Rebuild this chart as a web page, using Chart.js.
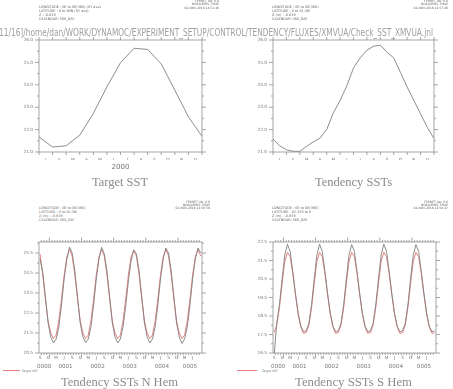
<!DOCTYPE html>
<html><head><meta charset="utf-8">
<script src="https://cdn.jsdelivr.net/npm/chart.js@4/dist/chart.umd.min.js"></script>
<style>
html,body{margin:0;padding:0;background:#fff;}
#page{position:relative;width:453px;height:389px;overflow:hidden;background:#fff;font-family:"DejaVu Sans",sans-serif;color:#777;}
canvas{position:absolute;}
.info{position:absolute;font-size:3.4px;line-height:4.1px;white-space:pre;color:#666;}
.stamp{position:absolute;font-size:3px;line-height:3.3px;white-space:pre;color:#666;text-align:right;}
.fit{position:absolute;white-space:nowrap;transform-origin:0 0;}
.path{font-family:"DejaVu Sans",sans-serif;font-size:10.5px;color:#a0a0a0;}
.title{font-family:"Liberation Serif",serif;font-size:12px;color:#8c8c8c;}
.leg{position:absolute;height:0;border-top:1px solid #e68080;}
.legt{position:absolute;font-size:3px;color:#777;white-space:nowrap;}
</style></head>
<body><div id="page">
<canvas id="cTL" width="230" height="150" style="left:0;top:30px"></canvas>
<canvas id="cTR" width="223" height="150" style="left:230px;top:30px"></canvas>
<canvas id="cBL" width="230" height="150" style="left:0;top:232px"></canvas>
<canvas id="cBR" width="223" height="150" style="left:230px;top:232px"></canvas>

<div class="fit path" data-l="-1" data-t="25.5" data-w="434">11/16]/home/dan/WORK/DYNAMOC/EXPERIMENT_SETUP/CONTROL/TENDENCY/FLUXES/XMVUA/Check_SST_XMVUA.jnl</div>

<div class="info" style="left:39px;top:4.5px">LONGITUDE : 0E to 0E(360) (XY ave)
LATITUDE : 0 to 90N (XY ave)
Z : -0.639
CALENDAR: 360_DAY</div>
<div class="stamp" style="right:234px;top:0px">FERRET Ver. 6.6
NOAA/PMEL TMAP
02-NOV-2016 14:51:46</div>

<div class="info" style="left:272px;top:4.5px">LONGITUDE : 0E to 0E(360)
LATITUDE : 0 to 81.3N
Z (m) : -0.639
CALENDAR: 360_DAY</div>
<div class="stamp" style="right:5px;top:0px">FERRET Ver. 6.6
NOAA/PMEL TMAP
02-NOV-2016 14:57:46</div>

<div class="fit title" data-l="92" data-t="175" data-w="56">Target SST</div>
<div class="fit title" data-l="315" data-t="175" data-w="77">Tendency SSTs</div>

<div class="info" style="left:39px;top:206px">LONGITUDE : 0E to 0E(360)
LATITUDE : 0 to 81.3N
Z (m) : -0.639
CALENDAR: 360_DAY</div>
<div class="stamp" style="right:243px;top:200.5px">FERRET Ver. 6.6
NOAA/PMEL TMAP
02-NOV-2016 14:56:59</div>

<div class="info" style="left:272px;top:206px">LONGITUDE : 0E to 0E(360)
LATITUDE : 82.33S to 0
Z (m) : -0.639
CALENDAR: 360_DAY</div>
<div class="stamp" style="right:5px;top:200.5px">FERRET Ver. 6.6
NOAA/PMEL TMAP
02-NOV-2016 14:58:47</div>

<div class="leg" style="left:3px;top:370px;width:17px"></div>
<div class="legt" style="left:22px;top:368.5px">Target SST</div>
<div class="leg" style="left:237px;top:370px;width:20px"></div>
<div class="legt" style="left:262px;top:368.5px">Target SST</div>

<div class="fit title" data-l="61" data-t="375" data-w="117">Tendency SSTs N Hem</div>
<div class="fit title" data-l="295" data-t="375" data-w="117">Tendency SSTs S Hem</div>
</div>
<script>
// ---------- data ----------
const climMonthLabels = ['J','F','M','A','M','J','J','A','S','O','N','D'];
const climYearLabel = ['2000'];
const climYTicks = [21, 22, 23, 24, 25, 26];
// Target SST, at month boundaries Jan 1 .. Dec 31
const targetSST = [21.67, 21.22, 21.28, 21.75, 22.72, 23.91, 24.99, 25.63, 25.58, 24.93, 23.76, 22.57, 21.70];
// Tendency SSTs, twice a month
const tendencySST = [21.57, 21.28, 21.10, 21.03, 21.03, 21.25, 21.45, 21.62, 22.00, 22.75, 23.30, 23.95,
                     24.75, 25.20, 25.55, 25.72, 25.77, 25.45, 25.20, 24.55, 23.90, 23.30, 22.70, 22.10, 21.60];

// time series, monthly from Sep 0000 to Sep 0005
const seriesQuarterLabels = ['S','D','M','J'];
const seriesYears = ['0000','0001','0002','0003','0004','0005'];
const nhYTicks = [20.5, 21.5, 22.5, 23.5, 24.5, 25.5];
const shYTicks = [16.5, 17.5, 18.5, 19.5, 20.5, 21.5, 22.5];

const tendNH = [25.20, 24.55, 23.30, 22.00, 21.30, 21.00, 21.20, 21.80, 22.90, 24.20, 25.20, 25.80,
                25.50, 24.60, 23.30, 22.00, 21.30, 21.02, 21.20, 21.80, 22.90, 24.20, 25.20, 25.78,
                25.45, 24.60, 23.30, 22.00, 21.30, 21.00, 21.20, 21.80, 22.85, 24.10, 25.10, 25.66,
                25.45, 24.60, 23.30, 22.00, 21.30, 21.00, 21.20, 21.80, 22.90, 24.20, 25.20, 25.75,
                25.50, 24.60, 23.30, 22.00, 21.30, 20.98, 21.20, 21.80, 22.90, 24.20, 25.20, 25.75, 25.50];
const targetNH = [25.45, 24.40, 23.20, 22.10, 21.50, 21.22, 21.40, 22.10, 23.20, 24.40, 25.30, 25.68,
                  25.35, 24.40, 23.20, 22.10, 21.50, 21.22, 21.40, 22.10, 23.20, 24.40, 25.30, 25.68,
                  25.35, 24.40, 23.20, 22.10, 21.50, 21.22, 21.40, 22.10, 23.20, 24.40, 25.30, 25.62,
                  25.35, 24.40, 23.20, 22.10, 21.50, 21.22, 21.40, 22.10, 23.20, 24.40, 25.30, 25.68,
                  25.35, 24.40, 23.20, 22.10, 21.50, 21.22, 21.40, 22.10, 23.20, 24.40, 25.30, 25.68, 25.35];
const tendSH = [16.30, 18.10, 19.10, 20.50, 21.80, 22.38, 22.00, 20.90, 19.70, 18.65, 17.95, 17.65,
                17.70, 18.10, 19.10, 20.50, 21.80, 22.38, 22.00, 20.90, 19.70, 18.65, 17.95, 17.65,
                17.70, 18.10, 19.10, 20.50, 21.80, 22.36, 22.00, 20.90, 19.70, 18.65, 17.95, 17.65,
                17.70, 18.10, 19.10, 20.50, 21.80, 22.38, 22.00, 20.90, 19.70, 18.65, 17.95, 17.65,
                17.70, 18.10, 19.10, 20.50, 21.80, 22.36, 22.00, 20.90, 19.70, 18.65, 17.95, 17.65, 17.70];
const targetSH = [17.60, 18.00, 18.95, 20.25, 21.45, 21.94, 21.70, 20.80, 19.65, 18.60, 17.90, 17.56,
                  17.60, 18.00, 18.95, 20.25, 21.45, 21.94, 21.70, 20.80, 19.65, 18.60, 17.90, 17.56,
                  17.60, 18.00, 18.95, 20.25, 21.45, 21.94, 21.70, 20.80, 19.65, 18.60, 17.90, 17.56,
                  17.60, 18.00, 18.95, 20.25, 21.45, 21.94, 21.70, 20.80, 19.65, 18.60, 17.90, 17.56,
                  17.60, 18.00, 18.95, 20.25, 21.45, 21.94, 21.70, 20.80, 19.65, 18.60, 17.90, 17.56, 17.60];

// ---------- styling ----------
const GRAY = '#808080', RED = '#e57575', AXIS = '#8f8f8f', TXT = '#777';
const FONT = 'DejaVu Sans';

const ferretFrame = {
  id: 'ferretFrame',
  afterDraw(chart, args, o) {
    const {ctx, chartArea: a, scales} = chart;
    ctx.save();
    ctx.strokeStyle = AXIS; ctx.lineWidth = 0.8;
    ctx.strokeRect(a.left, a.top, a.right - a.left, a.bottom - a.top);
    ctx.beginPath();
    for (const t of o.xTicks) {
      const p = scales.x.getPixelForValue(t.v);
      ctx.moveTo(p, a.bottom); ctx.lineTo(p, a.bottom + t.len);
      ctx.moveTo(p, a.top); ctx.lineTo(p, a.top - t.len);
    }
    for (const t of o.yTicks) {
      const p = scales.y.getPixelForValue(t.v);
      ctx.moveTo(a.left, p); ctx.lineTo(a.left - t.len, p);
      ctx.moveTo(a.right, p); ctx.lineTo(a.right + t.len, p);
    }
    ctx.stroke(); ctx.restore();
  }
};

function makeChart(id, opt) {
  const x2 = {
    type: 'linear', position: 'bottom', min: opt.xmin, max: opt.xmax,
    grid: {display: false, drawTicks: false}, border: {display: false},
    afterBuildTicks: s => { s.ticks = opt.x2Ticks.map(v => ({value: v})); },
    afterFit: s => { s.height = opt.x2H; },
    ticks: {autoSkip: false, maxRotation: 0, padding: opt.x2Pad, color: TXT,
            font: {family: FONT, size: opt.x2Font},
            callback: (v, i) => opt.x2Labels[i]}
  };
  const scales = {
    x: {
      type: 'linear', position: 'bottom', min: opt.xmin, max: opt.xmax,
      grid: {display: false, drawTicks: false}, border: {display: false},
      afterBuildTicks: s => { s.ticks = opt.xLabelPos.map(v => ({value: v})); },
      afterFit: s => { s.height = opt.xH; },
      ticks: {autoSkip: false, maxRotation: 0, padding: opt.xPad, color: TXT,
              font: {family: FONT, size: 4.3},
              callback: (v, i) => opt.xLabels[i]}
    },
    y: {
      type: 'linear', position: 'left', min: opt.ymin, max: opt.ymax,
      grid: {display: false, drawTicks: false}, border: {display: false},
      afterBuildTicks: s => { s.ticks = opt.yLabelVals.map(v => ({value: v})); },
      afterFit: s => { s.width = opt.yW; },
      ticks: {autoSkip: false, padding: 6, color: TXT, font: {family: FONT, size: 4.3},
              callback: v => v.toFixed(1)}
    }
  };
  if (opt.x2Labels) scales.x2 = x2;
  return new Chart(document.getElementById(id), {
    type: 'line',
    data: {datasets: opt.datasets.map(d => ({
      data: d.data, borderColor: d.color, borderWidth: 0.9, pointRadius: 0,
      tension: 0, fill: false}))},
    options: {
      responsive: false, animation: false, devicePixelRatio: 1,
      layout: {padding: opt.pad},
      plugins: {legend: {display: false}, tooltip: {enabled: false},
                ferretFrame: {xTicks: opt.xTicks, yTicks: opt.yTicks}},
      scales
    },
    plugins: [ferretFrame]
  });
}

// clim panels
const climBoundTicks = targetSST.map((v, i) => ({v: i, len: 3}));
const climYMinor = [];
climYTicks.forEach(v => { climYMinor.push({v, len: 4}); if (v + 0.5 < 26) climYMinor.push({v: v + 0.5, len: 2}); });
const climLabelPos = climMonthLabels.map((m, i) => i + 0.5);

makeChart('cTL', {
  xmin: 0, xmax: 12, ymin: 21, ymax: 26, yW: 39, xH: 8, xPad: 5, x2H: 11, x2Pad: 2.5, x2Font: 7,
  pad: {left: 0, top: 10, right: 28, bottom: 9},
  xLabels: climMonthLabels, xLabelPos: climLabelPos,
  x2Labels: climYearLabel, x2Ticks: [6],
  yLabelVals: climYTicks, xTicks: climBoundTicks, yTicks: climYMinor,
  datasets: [{data: targetSST.map((v, i) => ({x: i, y: v})), color: GRAY}]
});
makeChart('cTR', {
  xmin: 0, xmax: 12, ymin: 21, ymax: 26, yW: 43, xH: 8, xPad: 5,
  pad: {left: 0, top: 10, right: 19, bottom: 20},
  xLabels: climMonthLabels, xLabelPos: climLabelPos,
  yLabelVals: climYTicks, xTicks: climBoundTicks, yTicks: climYMinor,
  datasets: [{data: tendencySST.map((v, i) => ({x: i / 2, y: v})), color: GRAY}]
});

// time-series panels: month index 0 = Sep 0000
const TMIN = 0.1, TMAX = 61;
const qPos = [], qLab = [];
for (let m = 0; m < tendNH.length; m += 3) {
  if (m + 0.5 < TMAX) { qPos.push(m + 0.5); qLab.push(seriesQuarterLabels[(m / 3) % 4]); }
}
qPos.pop(); qLab.pop(); // Sep 0005 not labelled
const yearCenters = seriesYears.map((y, i) => {
  const s = Math.max(TMIN, i * 12 - 8), e = Math.min(TMAX, i * 12 + 4);
  return (s + e) / 2;
});
const tsXTicks = [];
for (let m = 1; m < TMAX; m++) tsXTicks.push({v: m, len: (m % 12 === 4) ? 4.5 : 2});
function minorY(ticks, lo, hi) {
  const r = [];
  ticks.forEach(v => { r.push({v, len: 4}); if (v + 0.5 < hi) r.push({v: v + 0.5, len: 2}); });
  return r;
}
const tsX = i => i + 0.5;

makeChart('cBL', {
  xmin: TMIN, xmax: TMAX, ymin: 20.5, ymax: 26.05, yW: 39, xH: 7, xPad: 2.5, x2H: 12, x2Pad: 3, x2Font: 5.6,
  pad: {left: 0, top: 10, right: 28, bottom: 10},
  xLabels: qLab, xLabelPos: qPos, x2Labels: seriesYears, x2Ticks: yearCenters,
  yLabelVals: nhYTicks, xTicks: tsXTicks, yTicks: minorY(nhYTicks, 20.5, 26.05),
  datasets: [{data: tendNH.map((v, i) => ({x: tsX(i), y: v})), color: GRAY},
             {data: targetNH.map((v, i) => ({x: tsX(i), y: v})), color: RED}]
});
makeChart('cBR', {
  xmin: TMIN, xmax: TMAX, ymin: 16.5, ymax: 22.5, yW: 43, xH: 7, xPad: 2.5, x2H: 12, x2Pad: 3, x2Font: 5.6,
  pad: {left: 0, top: 10, right: 17, bottom: 10},
  xLabels: qLab, xLabelPos: qPos, x2Labels: seriesYears, x2Ticks: yearCenters,
  yLabelVals: shYTicks, xTicks: tsXTicks, yTicks: minorY(shYTicks, 16.5, 22.5),
  datasets: [{data: tendSH.map((v, i) => ({x: tsX(i), y: v})), color: GRAY},
             {data: targetSH.map((v, i) => ({x: tsX(i), y: v})), color: RED}]
});

// fit wide text to measured widths
document.querySelectorAll('.fit').forEach(el => {
  el.style.left = el.dataset.l + 'px';
  el.style.top = el.dataset.t + 'px';
  const w = el.getBoundingClientRect().width;
  el.style.transform = 'scaleX(' + (parseFloat(el.dataset.w) / w) + ')';
});
</script>
</body></html>
